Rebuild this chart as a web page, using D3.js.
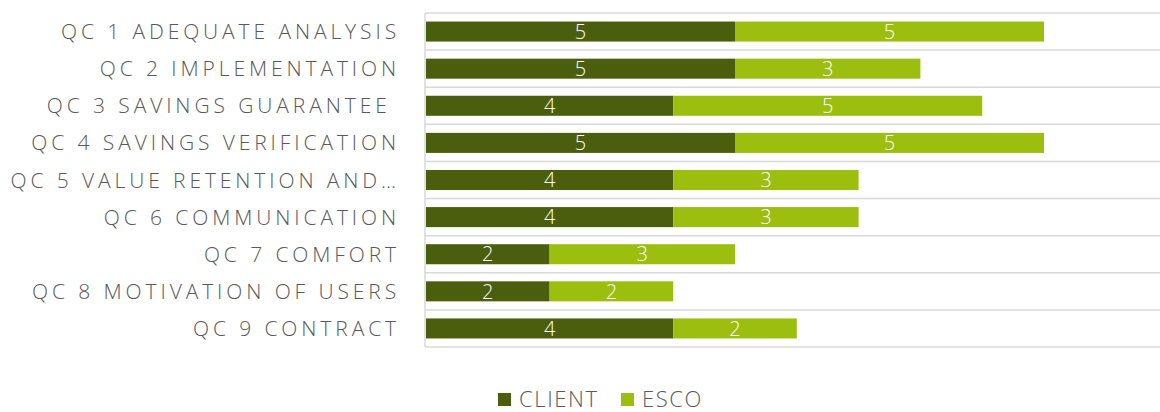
<!DOCTYPE html>
<html><head><meta charset="utf-8">
<script src="https://cdn.jsdelivr.net/npm/d3@7"></script>
<style>body{margin:0;background:#fff}svg{display:block}text{font-family:"Open Sans",sans-serif;font-weight:300}</style>
</head><body><svg id="c" width="1160" height="412"></svg>
<script>
const categories = ["QC 1 ADEQUATE ANALYSIS","QC 2 IMPLEMENTATION","QC 3 SAVINGS GUARANTEE ","QC 4 SAVINGS VERIFICATION","QC 5 VALUE RETENTION AND…","QC 6 COMMUNICATION","QC 7 COMFORT","QC 8 MOTIVATION OF USERS","QC 9 CONTRACT"];
const client = [5,5,4,5,4,4,2,2,4];
const esco = [5,3,5,5,3,3,3,2,2];
const seriesNames = ["CLIENT","ESCO"];
const colors = ["#4B5E0E","#9BBE0F"];

const svg = d3.select("#c");
const x = d3.scaleLinear().domain([0,10]).range([426,1044]);
const y = d3.scaleBand().domain(categories).range([13,347]).paddingInner(0.46).paddingOuter(0.23);

const bounds = d3.range(categories.length+1).map(i=>13+i*(334/categories.length));
svg.append("g").selectAll("line").data(bounds).join("line")
  .attr("x1",425).attr("x2",1160).attr("y1",d=>d).attr("y2",d=>d)
  .attr("stroke","#d9d9d9").attr("stroke-width",1.5);
svg.append("line").attr("x1",425).attr("x2",425).attr("y1",13).attr("y2",347)
  .attr("stroke","#d9d9d9").attr("stroke-width",1.5);

const data = categories.map((c,i)=>({cat:c, CLIENT:client[i], ESCO:esco[i]}));
const stack = d3.stack().keys(seriesNames)(data);
const g = svg.append("g");
stack.forEach((s,si)=>{
  g.selectAll(".b"+si).data(s).join("rect")
    .attr("x",d=>x(d[0])).attr("width",d=>x(d[1])-x(d[0]))
    .attr("y",d=>y(d.data.cat)).attr("height",y.bandwidth())
    .attr("fill",colors[si]);
  g.selectAll(".t"+si).data(s).join("text")
    .attr("x",d=>(x(d[0])+x(d[1]))/2).attr("y",d=>y(d.data.cat)+y.bandwidth()/2)
    .attr("dy","0.36em").attr("text-anchor","middle")
    .attr("fill","#fff").attr("font-size",20).text(d=>d[1]-d[0]);
});

svg.append("g").selectAll("text").data(categories).join("text")
  .attr("x",400).attr("y",d=>y(d)+y.bandwidth()/2).attr("dy","0.36em")
  .attr("text-anchor","end").attr("fill","#595959").attr("font-size",21)
  .attr("letter-spacing","3.9px").style("white-space","pre").text(d=>d);

const leg = svg.append("g");
const lx = [498,621];
seriesNames.forEach((n,i)=>{
  leg.append("rect").attr("x",lx[i]).attr("y",393).attr("width",13).attr("height",13).attr("fill",colors[i]);
  leg.append("text").attr("x",lx[i]+21).attr("y",407).attr("fill","#595959")
    .attr("font-size",22).attr("letter-spacing","1.6px").text(n);
});
</script></body></html>
